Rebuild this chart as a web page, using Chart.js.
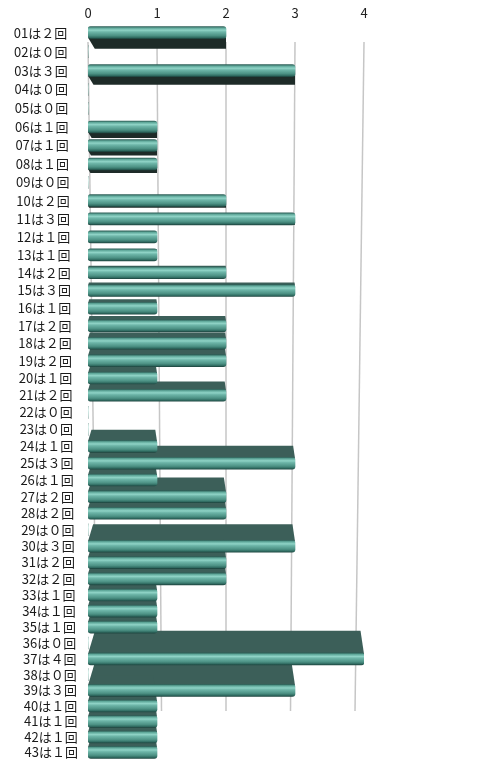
<!DOCTYPE html>
<html>
<head>
<meta charset="utf-8">
<script src="https://cdn.jsdelivr.net/npm/chart.js@4.4.0/dist/chart.umd.min.js"></script>
<style>
  html, body { margin: 0; padding: 0; background: #fff; }
</style>
</head>
<body>
<canvas id="drawChart" width="494" height="772"></canvas>
<script>
// draw numbers and how many times each came up
const drawNumbers = ['01','02','03','04','05','06','07','08','09','10',
                     '11','12','13','14','15','16','17','18','19','20',
                     '21','22','23','24','25','26','27','28','29','30',
                     '31','32','33','34','35','36','37','38','39','40',
                     '41','42','43'];
const drawCounts = [2,0,3,0,0,1,1,1,0,2,
                    3,1,1,2,3,1,2,2,2,1,
                    2,0,0,1,3,1,2,2,0,3,
                    2,2,1,1,1,0,4,0,3,1,
                    1,1,1];
const countTicks = [0, 1, 2, 3, 4];

// full-width digit for the label text, e.g. "01は２回"
const toWide = n => String(n).replace(/[0-9]/g, c => String.fromCharCode(c.charCodeAt(0) + 0xFEE0));
const rowLabels = drawNumbers.map((num, i) => num + 'は' + toWide(drawCounts[i]) + '回');

// category axis with a little perspective: rows get closer together further down
// and the labels drift a bit to the right
class PerspectiveCategoryScale extends Chart.CategoryScale {
    getPixelForDecimal(decimal) {
        const k = 0.12;
        return super.getPixelForDecimal(decimal * (1 + k) / (1 + k * decimal));
    }
    _computeLabelItems(chartArea) {
        const items = super._computeLabelItems(chartArea);
        items.forEach(item => {
            const ty = item.options.translation[1];
            item.options.translation[0] += 11 * (ty - this.top) / (this.bottom - this.top);
        });
        return items;
    }
}
PerspectiveCategoryScale.id = 'perspectiveCategory';
PerspectiveCategoryScale.defaults = Chart.CategoryScale.defaults;
Chart.register(PerspectiveCategoryScale);

// back grid lines + the dark top/bottom faces of the 3D bars
const depthFaces = {
    id: 'depthFaces',
    beforeDatasetsDraw(chart) {
        const { ctx, chartArea, scales: { x, y } } = chart;
        ctx.save();

        ctx.strokeStyle = '#c6c6c6';
        ctx.lineWidth = 1.5;
        const yTop = chartArea.top + 19;
        const yBot = y.getPixelForValue(39) + 5;
        countTicks.forEach(v => {
            const px = x.getPixelForValue(v);
            ctx.beginPath();
            ctx.moveTo(px, yTop);
            ctx.lineTo(px - 4.5 * (v - 2), yBot);
            ctx.stroke();
        });

        const horizon = y.getPixelForValue(11);
        chart.getDatasetMeta(0).data.forEach((bar, i) => {
            if (!drawCounts[i]) return;
            const { x: end, y: cy, base, height } = bar.getProps(['x', 'y', 'base', 'height'], true);
            const d = 0.055 * (cy - horizon);
            const half = height / 2;
            ctx.beginPath();
            if (d < 0) {
                ctx.fillStyle = '#1e2b28';
                const e = cy + half - 1;
                ctx.moveTo(base, e);
                ctx.lineTo(base + 0.6 * -d, e - d);
                ctx.lineTo(end, e - d);
                ctx.lineTo(end, e);
            } else {
                ctx.fillStyle = '#3c5f59';
                const e = cy - half + 1;
                ctx.moveTo(base, e);
                ctx.lineTo(base + 0.3 * d, e - d);
                ctx.lineTo(end - 0.15 * d, e - d);
                ctx.lineTo(end, e);
            }
            ctx.closePath();
            ctx.fill();
        });
        ctx.restore();
    }
};

function barFill(context) {
    const chart = context.chart;
    const ys = chart.scales.y;
    if (!chart.chartArea || !ys || context.dataIndex === undefined) return '#5a9f92';
    const cy = ys.getPixelForValue(context.dataIndex);
    const g = chart.ctx.createLinearGradient(0, cy - 6, 0, cy + 6);
    g.addColorStop(0, '#2d5f57');
    g.addColorStop(0.12, '#5fa89a');
    g.addColorStop(0.3, '#8fd3c6');
    g.addColorStop(0.45, '#6db5a8');
    g.addColorStop(0.75, '#4c9184');
    g.addColorStop(0.92, '#2f6a60');
    g.addColorStop(1, '#1f4741');
    return g;
}

const ctx = document.getElementById('drawChart').getContext('2d');
const drawChart = new Chart(ctx, {
    type: 'bar',
    data: {
        labels: rowLabels,
        datasets: [{
            data: drawCounts,
            backgroundColor: barFill,
            borderWidth: 0,
            borderRadius: 3,
            borderSkipped: false,
            barThickness: 12
        }]
    },
    options: {
        indexAxis: 'y',
        responsive: false,
        animation: false,
        events: [],
        layout: { padding: { left: 0, right: 130, top: 0, bottom: 12 } },
        plugins: {
            legend: { display: false },
            tooltip: { enabled: false }
        },
        scales: {
            x: {
                type: 'linear',
                position: 'top',
                min: 0,
                max: 4,
                afterBuildTicks: scale => { scale.ticks = countTicks.map(v => ({ value: v })); },
                afterFit: scale => { scale.height = 23; },
                grid: { display: false, drawTicks: false },
                border: { display: false },
                ticks: {
                    color: '#222',
                    padding: 2,
                    font: { family: "'Noto Sans CJK JP', sans-serif", size: 13 }
                }
            },
            y: {
                type: 'perspectiveCategory',
                afterFit: scale => {
                    scale.width = 88;
                    scale.paddingTop = 0;
                    scale.paddingBottom = 0;
                },
                grid: { display: false, drawTicks: false },
                border: { display: false },
                ticks: {
                    autoSkip: false,
                    color: '#1a1a1a',
                    padding: 21,
                    font: { family: "'Noto Sans CJK JP', sans-serif", size: 13 }
                }
            }
        }
    },
    plugins: [depthFaces]
});
</script>
</body>
</html>
